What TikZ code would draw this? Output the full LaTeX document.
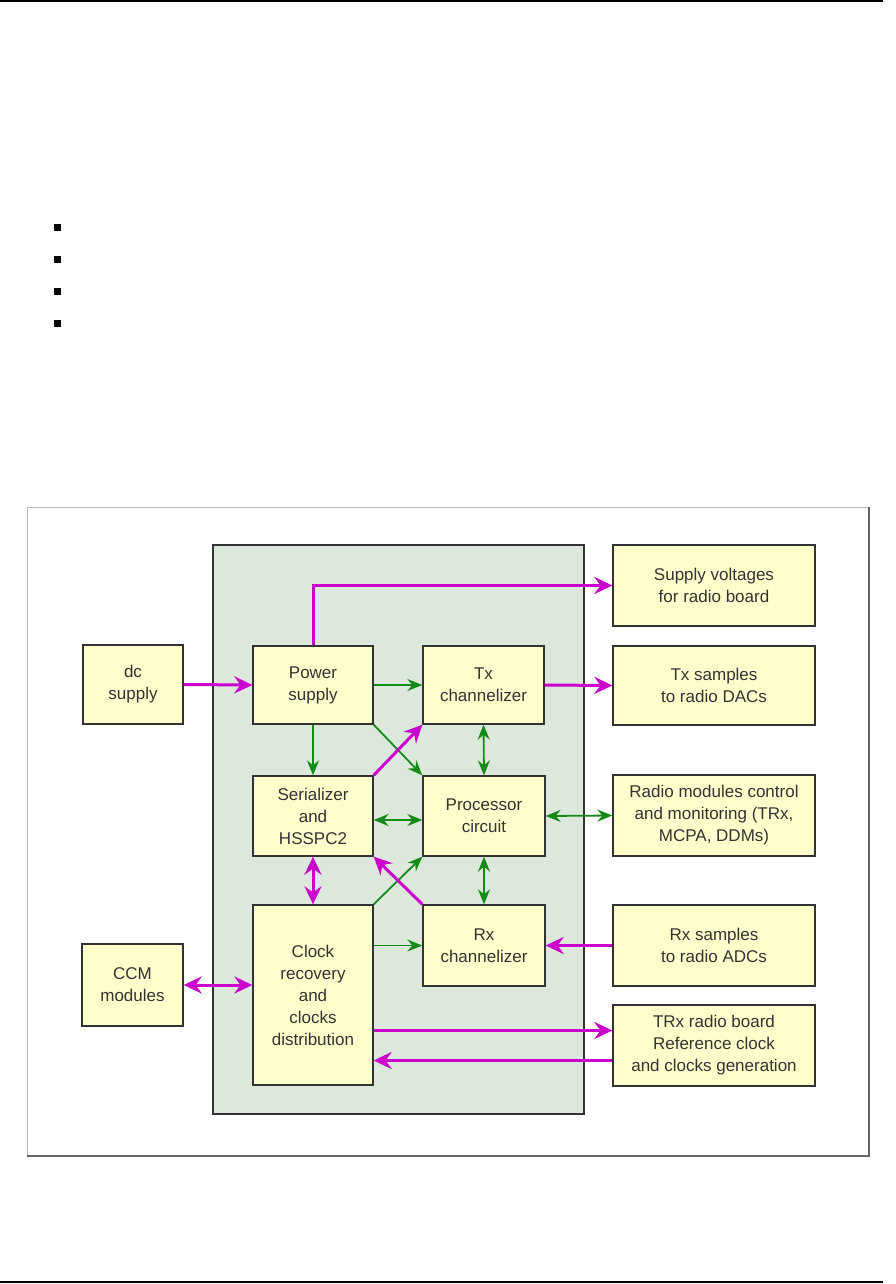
\documentclass[tikz,border=0pt]{standalone}
\usepackage{fontspec}
\setmainfont{Liberation Sans}
\usetikzlibrary{arrows.meta,calc}
\definecolor{mag}{HTML}{CC00CC}
\definecolor{grn}{HTML}{168A16}
\definecolor{boxfill}{HTML}{FFFFCC}
\definecolor{panelfill}{HTML}{DCE8DC}
\definecolor{edge}{HTML}{333333}
\begin{document}
\begin{tikzpicture}[x=1pt,y=-1pt,
  blk/.style={draw=edge, line width=1.3pt, fill=boxfill, align=center, inner sep=0pt,
    font=\fontsize{17}{22}\selectfont, text=edge, minimum width=120pt, minimum height=80pt},
  wide/.style={minimum width=202pt},
  magtip/.tip={Stealth[length=18pt,width=17pt,inset=6pt]},
  grntip/.tip={Stealth[length=15pt,width=12pt,inset=5pt]},
  magarrow/.style={draw=mag, line width=3pt, -magtip},
  magboth/.style={draw=mag, line width=3pt, magtip-magtip},
  grnarrow/.style={draw=grn, line width=1.8pt, -grntip},
  grnboth/.style={draw=grn, line width=1.8pt, grntip-grntip},
  pageline/.style={draw=black, line width=1.6pt}
]
\useasboundingbox (0,0) rectangle (896,1284);

% page rules
\draw[pageline] (0,1) -- (883,1);
\draw[pageline] (0,1282) -- (883,1282);

% bullets
\foreach \yy in {224,256,288,320} \fill[black] (54,\yy) rectangle (61,\yy+7);

% figure frame
\draw[draw=gray!55, line width=1pt, fill=white] (27,507) rectangle (869,1156);
\draw[draw=gray!80!black, line width=2.5pt] (869,507) -- (869,1156) -- (27,1156);

% central panel
\draw[draw=edge, line width=1.3pt, fill=panelfill] (213,545) rectangle (584,1114);

% blocks
\node[blk, minimum width=100pt, minimum height=79pt] (dc) at (133,684.5) {dc\\supply};
\node[blk, minimum height=78pt] (PS) at (313,685) {Power\\supply};
\node[blk, minimum width=121pt, minimum height=78pt] (Tx) at (483.5,685) {Tx\\channelizer};
\node[blk] (Ser) at (313,816) {Serializer\\and\\HSSPC2};
\node[blk, minimum width=122pt] (Proc) at (484,816) {Processor\\circuit};
\node[blk, minimum width=122pt, minimum height=81pt] (Rx) at (484,945.5) {Rx\\channelizer};
\node[blk, minimum height=180pt] (Clock) at (313,995) {Clock\\recovery\\and\\clocks\\distribution};
\node[blk, minimum width=101pt, minimum height=82pt] (CCM) at (132.5,985) {CCM\\modules};
\node[blk, wide, minimum height=81pt] (SV) at (714,585.5) {Supply voltages\\for radio board};
\node[blk, wide, minimum height=79pt] (TxS) at (714,685.5) {Tx samples\\to radio DACs};
\node[blk, wide, minimum height=81pt] (Radio) at (714,815.5) {Radio modules control\\and monitoring (TRx,\\MCPA, DDMs)};
\node[blk, wide, minimum height=81pt] (RxS) at (714,945.5) {Rx samples\\to radio ADCs};
\node[blk, wide, minimum height=81pt] (TRx) at (714,1045.5) {TRx radio board\\Reference clock\\and clocks generation};

% connectors
\draw[magarrow] (dc.east) -- (PS.west);
\draw[magarrow] (PS.north) |- (SV.west);
\draw[grnarrow] (PS.east) -- (Tx.west);
\draw[magarrow] (Tx.east) -- (TxS.west);
\draw[grnarrow] (PS.south) -- (Ser.north);
\draw[grnarrow] (PS.south east) -- (Proc.north west);
\draw[magarrow] (Ser.north east) -- (Tx.south west);
\draw[grnboth] (Tx.south) -- (Proc.north);
\draw[grnboth] ([yshift=-4pt]Ser.east) -- ([yshift=-4pt]Proc.west);
\draw[grnboth] (Proc.east) -- (Radio.west);
\draw[magboth] (Ser.south) -- (Clock.north);
\draw[grnarrow] (Clock.north east) -- (Proc.south west);
\draw[magarrow] (Rx.north west) -- (Ser.south east);
\draw[grnboth] (Proc.south) -- (Rx.north);
\draw[grnarrow] (Clock.east |- Rx.west) -- (Rx.west);
\draw[magarrow] (RxS.west) -- (Rx.east);
\draw[magboth] (CCM.east) -- (CCM.east -| Clock.west);
\coordinate (t1) at ($(TRx.west)+(0,-15)$);
\coordinate (t2) at ($(TRx.west)+(0,15)$);
\draw[magarrow] (Clock.east |- t1) -- (t1);
\draw[magarrow] (t2) -- (Clock.east |- t2);
\end{tikzpicture}
\end{document}
